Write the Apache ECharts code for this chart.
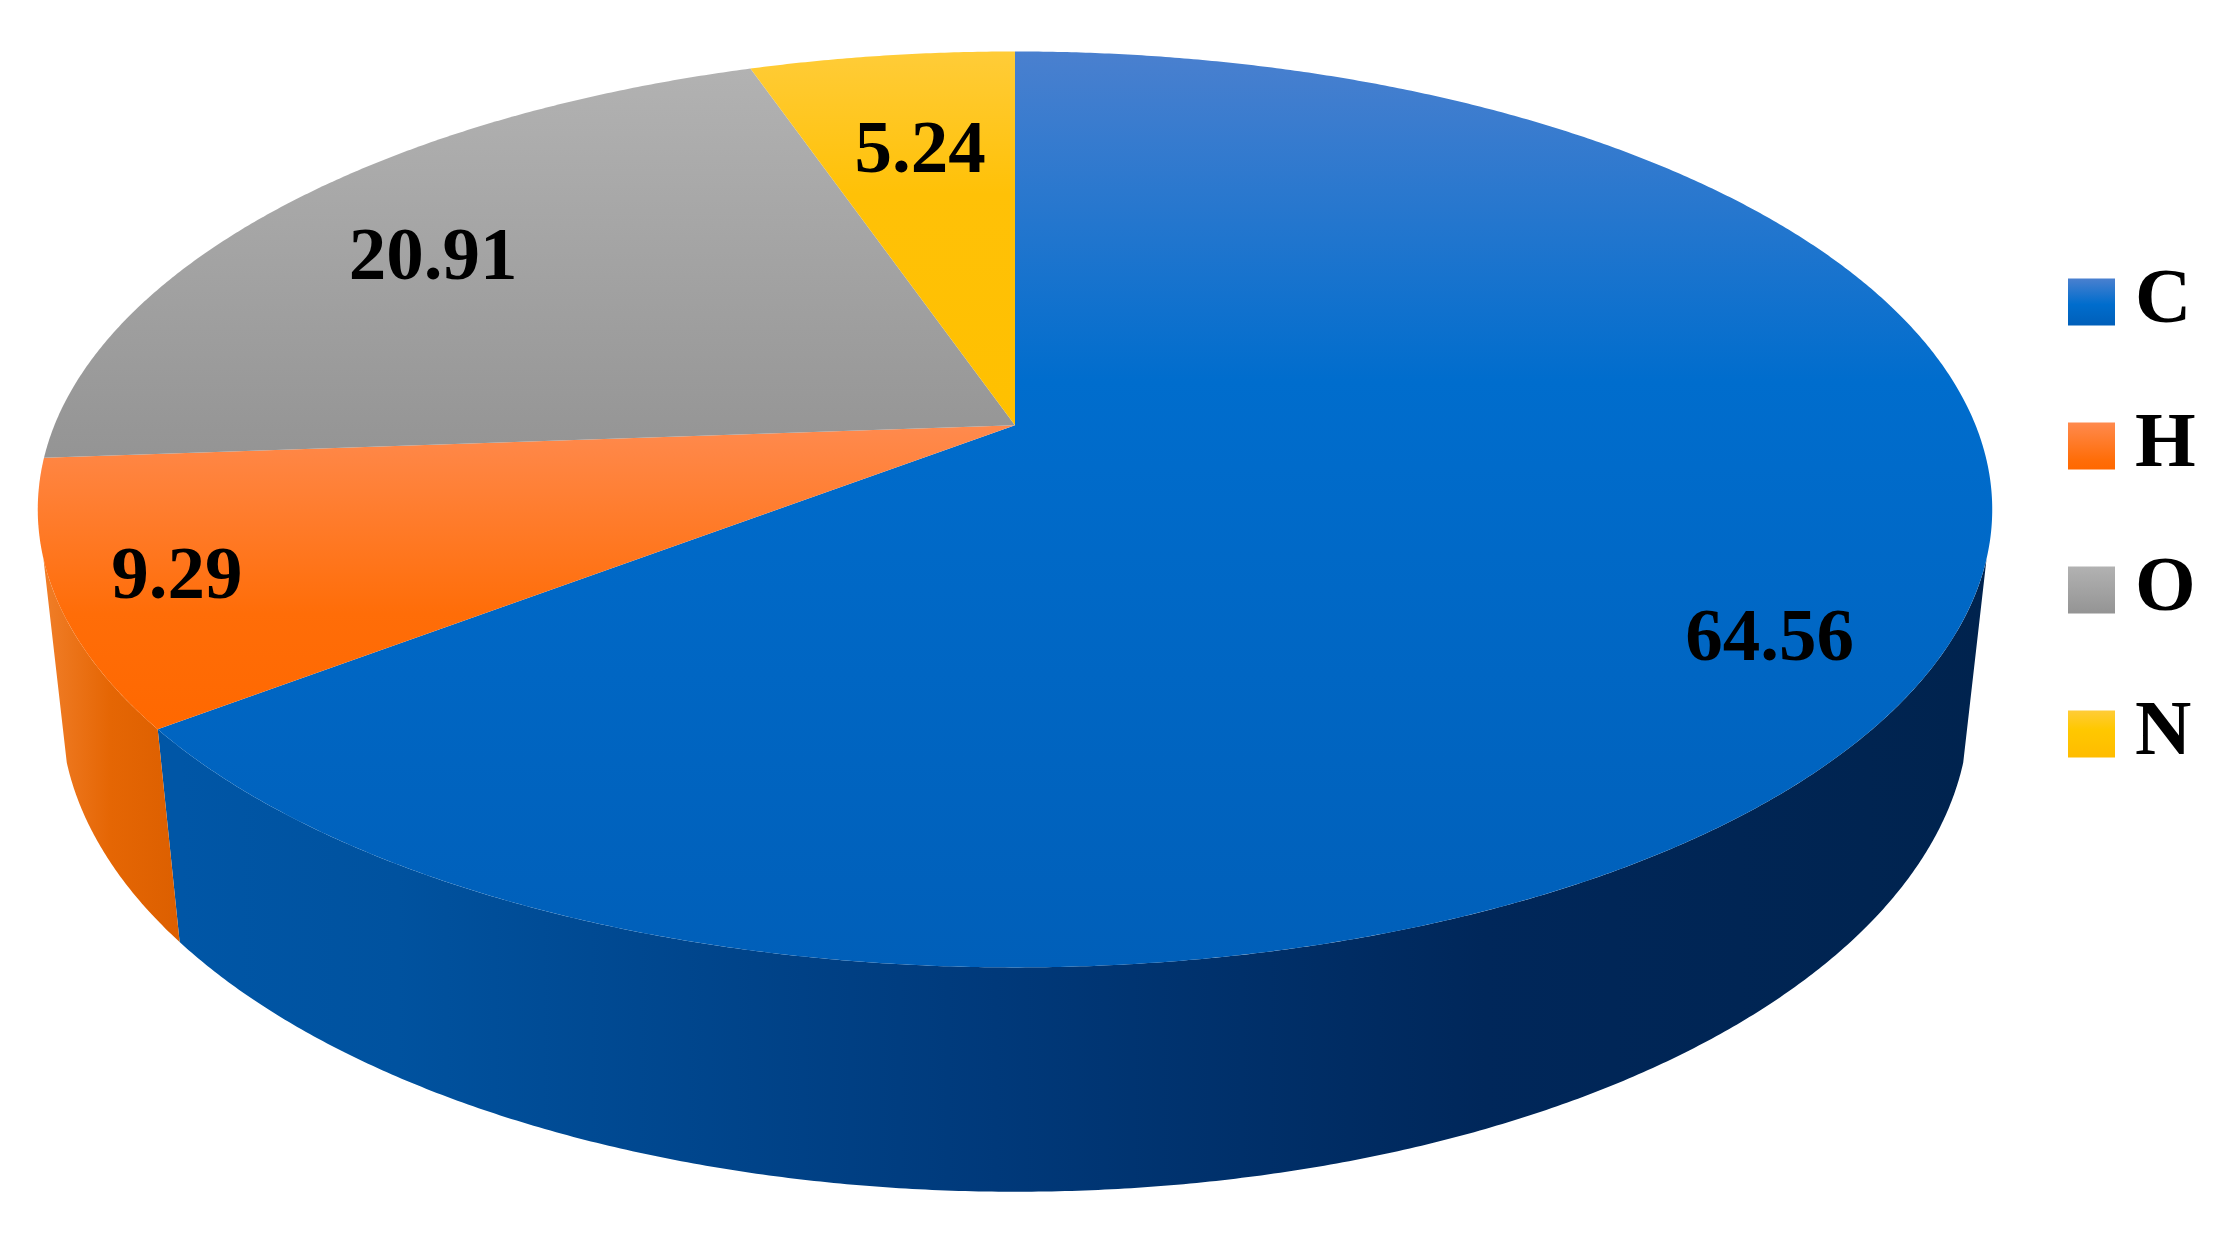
<!DOCTYPE html>
<html>
<head>
<meta charset="utf-8">
<style>html,body{margin:0;padding:0;background:#fff}#chart{width:2238px;height:1244px}</style>
<script src="https://cdn.jsdelivr.net/npm/echarts@6/dist/echarts.min.js"></script>
</head>
<body>
<div id="chart"></div>
<script>
// Data
const categories = ['C', 'H', 'O', 'N'];
const values = [64.56, 9.29, 20.91, 5.24];

// Label placement within each wedge (fraction of radius, angle shift from mid-wedge)
const labelRadius = [0.844, 0.88, 0.774, 0.72];
const labelShift = [4.9, 0, -0.9, 0.5];
const labelBaselineNudge = 6;

// Styles
const topStops = [
  [[0, '#4a80cf'], [0.36, '#006dcd'], [1, '#005fb9']],
  [[0, '#ff8a4e'], [0.62, '#ff6d08'], [1, '#ff6800']],
  [[0, '#b2b2b2'], [1, '#949494']],
  [[0, '#ffcc38'], [0.38, '#ffc107'], [1, '#ffc000']]
];
const sideStops = [
  [[0, '#0056a6'], [0.12, '#00529f'], [0.45, '#00397a'], [0.72, '#00275a'], [1, '#00234e']],
  [[0, '#f17f2a'], [0.5, '#e56604'], [1, '#dc5f00']]
];
const sideRange = [[180, 1993], [40, 180]];
const legendStops = [
  [[0, '#4a80cf'], [0.55, '#006dcd'], [1, '#005fb9']],
  [[0, '#ff8a4e'], [0.8, '#ff6d08'], [1, '#ff6800']],
  [[0, '#b2b2b2'], [1, '#949494']],
  [[0, '#ffcc38'], [0.4, '#ffc800'], [1, '#ffbc00']]
];

// Projection of the tilted disc onto the page
const view = { cx: 1015, cy: 425.3, R: 960.6, b: 442.5, a: -0.1837, c: 0.0233, d: 201 };
const visibleSide = [106.6, 253.4];
const total = values.reduce((s, v) => s + v, 0);
const starts = values.reduce((acc, v) => { acc.push(acc[acc.length - 1] + v / total * 360); return acc; }, [0]);

function project(deg, r, depth) {
  const t = deg * Math.PI / 180;
  const u = r * Math.sin(t), v = -r * Math.cos(t);
  const w = 1 + view.a * v + (depth ? view.c : 0);
  return [view.cx + view.R * u / w, view.cy + (view.b * v + (depth ? view.d : 0)) / w];
}
function arc(from, to, depth) {
  const pts = [], n = Math.max(2, Math.ceil(Math.abs(to - from) * 3));
  for (let i = 0; i <= n; i++) pts.push(project(from + (to - from) * i / n, 1, depth));
  return pts;
}
function renderWedge(params, api) {
  const i = params.seriesIndex;
  const value = api.value(0);
  const a0 = starts[i], a1 = a0 + value / total * 360;
  const children = [];
  const s0 = Math.max(a0, visibleSide[0]), s1 = Math.min(a1, visibleSide[1]);
  if (s1 > s0) {
    children.push({
      type: 'polygon',
      shape: { points: arc(s0, s1, false).concat(arc(s1, s0, true)) },
      style: { fill: new echarts.graphic.LinearGradient(sideRange[i][0], 0, sideRange[i][1], 0,
        sideStops[i].map(([offset, color]) => ({ offset, color })), true) }
    });
  }
  children.push({
    type: 'polygon',
    shape: { points: [project(0, 0, false)].concat(arc(a0, a1, false)) },
    style: { fill: new echarts.graphic.LinearGradient(0, 0, 0, 1,
      topStops[i].map(([offset, color]) => ({ offset, color }))) }
  });
  const pos = project((a0 + a1) / 2 + labelShift[i], labelRadius[i], false);
  children.push({
    type: 'text',
    z2: 10,
    style: {
      text: value.toFixed(2), x: pos[0], y: pos[1] + labelBaselineNudge, fill: '#000',
      font: 'bold 75px "Liberation Serif", serif', align: 'center', verticalAlign: 'middle'
    }
  });
  return { type: 'group', children };
}

const chart = echarts.init(document.getElementById('chart'), null, { renderer: 'canvas' });
chart.setOption({
  animation: false,
  backgroundColor: '#fff',
  legend: {
    orient: 'vertical', left: 2068, top: 263,
    itemWidth: 47, itemHeight: 47, itemGap: 66, padding: 0,
    icon: 'rect',
    selectedMode: false,
    textStyle: { fontFamily: '"Liberation Serif", serif', fontWeight: 'bold', fontSize: 78, color: '#000', lineHeight: 47, padding: [0, 0, 0, 15] },
    data: categories.map((name, i) => ({
      name,
      itemStyle: { color: new echarts.graphic.LinearGradient(0, 0, 0, 1, legendStops[i].map(([offset, color]) => ({ offset, color }))) }
    }))
  },
  series: categories.map((name, i) => ({
    type: 'custom',
    name,
    coordinateSystem: 'none',
    renderItem: renderWedge,
    silent: true,
    data: [[values[i]]]
  }))
});
</script>
</body>
</html>
